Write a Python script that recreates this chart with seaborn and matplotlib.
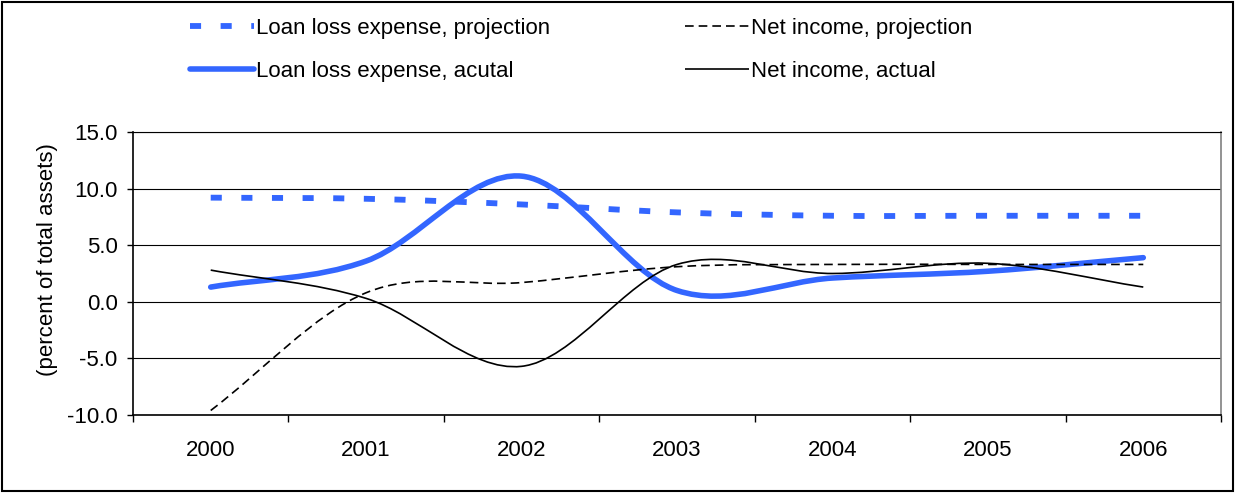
import numpy as np
import pandas as pd
import matplotlib
matplotlib.use("Agg")
import matplotlib.pyplot as plt
from matplotlib.path import Path
from matplotlib.patches import PathPatch, Rectangle
from matplotlib.lines import Line2D
import seaborn as sns

# ---- data ----
years = ["2000", "2001", "2002", "2003", "2004", "2005", "2006"]
loan_loss_proj = [9.2, 9.1, 8.6, 7.9, 7.6, 7.6, 7.6]
loan_loss_actual = [1.3, 3.6, 11.1, 1.0, 2.1, 2.7, 3.9]
net_income_proj = [-9.6, 0.8, 1.7, 3.1, 3.3, 3.3, 3.3]
net_income_actual = [2.8, 0.3, -5.7, 3.3, 2.5, 3.4, 1.3]
series_names = ["Loan loss expense, projection", "Loan loss expense, acutal",
                "Net income, projection", "Net income, actual"]
y_ticks = [-10, -5, 0, 5, 10, 15]

sns.set_theme(style="white", rc={"text.color": "black", "axes.labelcolor": "black",
                                 "xtick.color": "black", "ytick.color": "black"})
plt.rcParams['font.family'] = ['Liberation Sans', 'DejaVu Sans']
FS = 16

W, H = 1236, 493
fig = plt.figure(figsize=(W / 100, H / 100), dpi=100)
ax = fig.add_axes([133 / W, 1 - 415 / H, (1221 - 133) / W, (415 - 132) / H])

xs = np.arange(len(years))
df = pd.DataFrame({"x": np.tile(xs, 4),
                   "value": loan_loss_proj + loan_loss_actual + net_income_proj + net_income_actual,
                   "series": np.repeat(series_names, len(years))})
# seaborn sets up the scales with the raw points (invisible); smoothed curves drawn on top
sns.lineplot(data=df, x="x", y="value", hue="series", ax=ax, linewidth=0, legend=False)


def smooth_path(values):
    """Excel-style smoothed line: cubic Bezier through the data points."""
    y = np.asarray(values, float)
    n = len(y)
    m = np.zeros(n)
    m[0] = y[1] - y[0]
    m[-1] = y[-1] - y[-2]
    m[1:-1] = (y[2:] - y[:-2]) / 2
    verts = [(0, y[0])]
    codes = [Path.MOVETO]
    for i in range(n - 1):
        verts += [(i + 1 / 3, y[i] + m[i] / 3), (i + 2 / 3, y[i + 1] - m[i + 1] / 3), (i + 1, y[i + 1])]
        codes += [Path.CURVE4] * 3
    return Path(verts, codes)


blue = "#3366FF"
styles = [
    dict(color=blue, lw=4.2, ls=(0, (1.9, 3.35)), capstyle="butt"),
    dict(color=blue, lw=4.0, ls="-", capstyle="round"),
    dict(color="black", lw=1.2, ls=(0, (5.2, 3.0)), capstyle="butt"),
    dict(color="black", lw=1.2, ls="-", capstyle="butt"),
]
data = [loan_loss_proj, loan_loss_actual, net_income_proj, net_income_actual]
handles = []
for vals, st, name in zip(data, styles, series_names):
    patch = PathPatch(smooth_path(vals), fill=False, edgecolor=st["color"], lw=st["lw"],
                      linestyle=st["ls"], capstyle=st["capstyle"], joinstyle="round", zorder=3)
    ax.add_patch(patch)
    h = Line2D([], [], color=st["color"], lw=st["lw"], linestyle=st["ls"])
    if st["ls"] == "-":
        h.set_solid_capstyle(st["capstyle"])
    else:
        h.set_dash_capstyle("butt")
    handles.append(h)

ax.set_xlim(-0.5, len(years) - 0.5)
ax.set_ylim(-10, 15)
ax.set_xticks(np.arange(-0.5, len(years), 1.0))
ax.set_xticklabels([])
ax.set_xticks(xs, minor=True)
ax.set_xticklabels(years, minor=True, fontsize=FS, color="black")
ax.tick_params(axis="x", which="major", direction="out", length=5, width=1, color="black", bottom=True)
ax.tick_params(axis="x", which="minor", length=0, pad=18, bottom=True)
ax.set_yticks(y_ticks)
ax.set_yticklabels([f"{v:.1f}" for v in y_ticks], fontsize=FS, color="black")
ax.tick_params(axis="y", direction="out", length=4, width=1, color="black", pad=7, left=True)
ax.set_xlabel("")
ax.set_ylabel("(percent of total assets)", fontsize=FS, color="black")
ax.yaxis.set_label_coords(-0.079, 0.548)
ax.yaxis.label.set_va("center")

ax.yaxis.grid(True, color="black", lw=0.8)
ax.xaxis.grid(False)
ax.set_axisbelow(True)
for s in ["left", "bottom"]:
    ax.spines[s].set_color("black")
    ax.spines[s].set_linewidth(1.2)
ax.spines["top"].set_color("black")
ax.spines["top"].set_linewidth(0.8)
ax.spines["right"].set_color("#808080")
ax.spines["right"].set_linewidth(1.2)

leg = fig.legend(handles, series_names, ncol=2, loc="upper left",
                 bbox_to_anchor=(190 / W, 1 - 18 / H), frameon=False, borderpad=0, borderaxespad=0,
                 handlelength=2.88, handletextpad=0.09, columnspacing=6.08, labelspacing=0.98,
                 fontsize=FS)
for t in leg.get_texts():
    t.set_color("black")

fig.patches.append(Rectangle((2 / W, 2 / H), 1231 / W, 489 / H, transform=fig.transFigure,
                             fill=False, lw=1.5, ec="black"))

fig.savefig("out.png", dpi=100)
